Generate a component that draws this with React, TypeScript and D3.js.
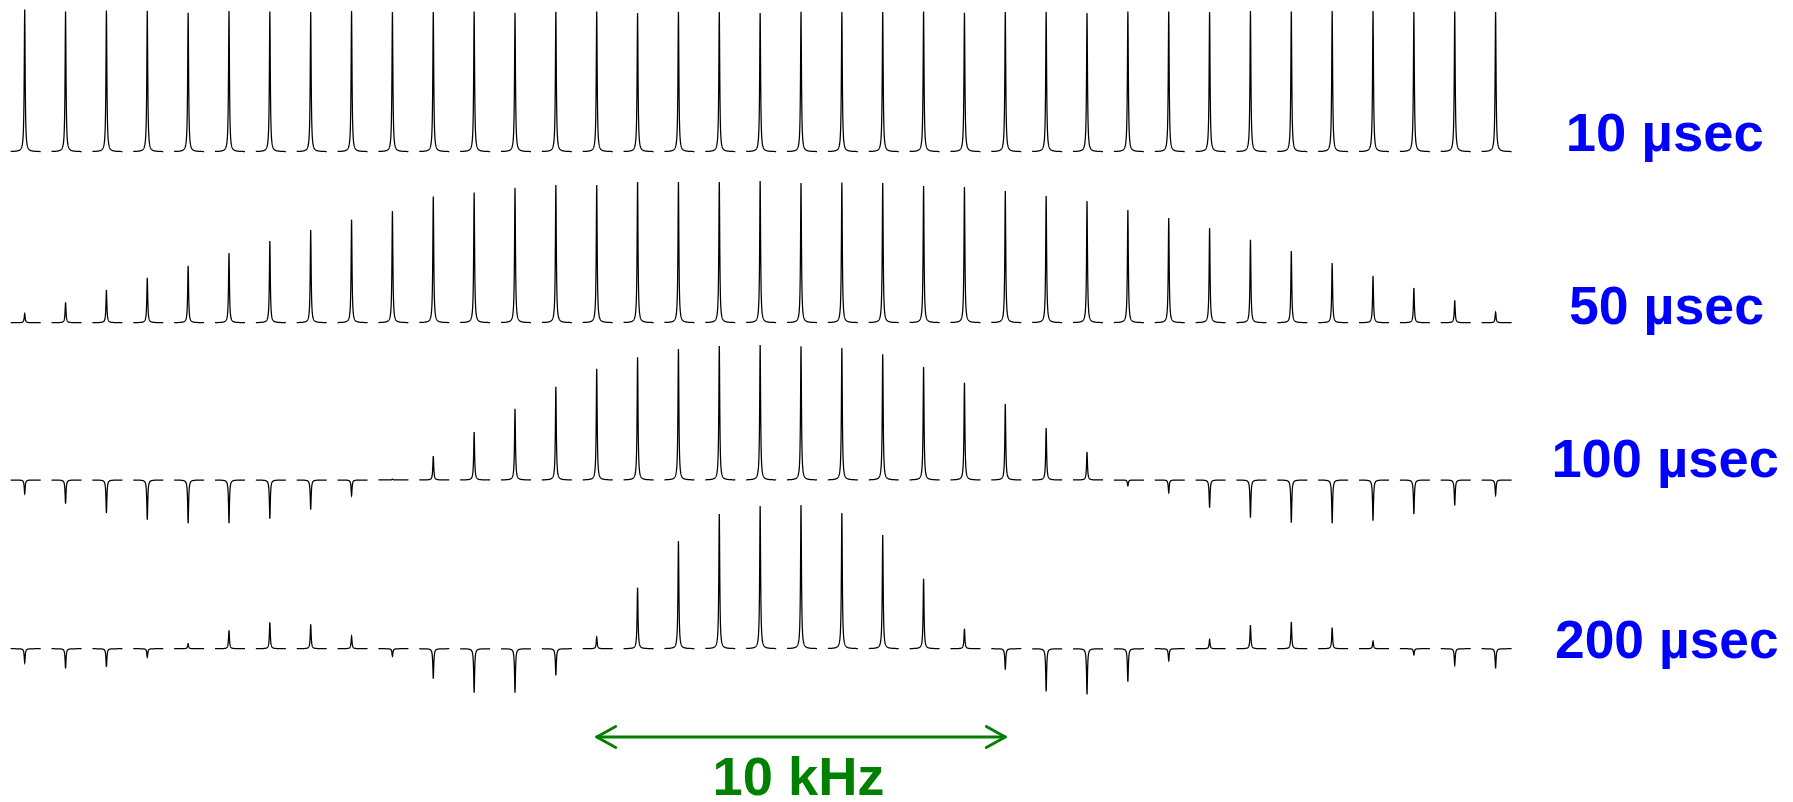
import React from "react";
import * as d3 from "d3";

// Frequency offsets of the sidebands (kHz), relative to the centre line
const offsetsKHz = [
  -18, -17, -16, -15, -14, -13, -12, -11, -10, -9, -8, -7, -6, -5, -4, -3, -2, -1,
  0, 1, 2, 3, 4, 5, 6, 7, 8, 9, 10, 11, 12, 13, 14, 15, 16, 17, 18,
];

const rowLabels = ["10 µsec", "50 µsec", "100 µsec", "200 µsec"];

// Peak intensities (arbitrary units, ~100 = full height)
const amp10 = [
  101.6, 100.2, 100.9, 100.7, 99.3, 100.5, 100.2, 99.8, 100.5, 99.8, 99.8, 100.2, 99.3,
  100, 100.2, 99.1, 100, 99.8, 99.1, 100, 99.8, 99.8, 100.2, 99.3, 99.8, 100, 99.1,
  100.2, 100.2, 99.8, 100.5, 100.2, 100.5, 100.5, 99.8, 100.2, 99.8,
];
const amp50 = [
  6.6, 14.5, 23.4, 32.1, 40.7, 49.8, 58.4, 66.2, 73.6, 79.8, 90.2, 92.9, 96.4, 98.4,
  98.4, 100.5, 100.5, 100.5, 101.2, 99.8, 100.2, 99.8, 97.6, 96.9, 94.1, 90.5, 86.9,
  80.5, 74.8, 67.6, 59.3, 51.2, 42.6, 33.4, 24.8, 15.9, 7.6,
];
const amp100 = [
  -9.8, -16.9, -23.6, -28.4, -30.9, -30.9, -27.6, -21.2, -11.2, 0.7, 17.1, 34.3, 50.9,
  66.6, 79.5, 87.6, 93.6, 95.7, 96.4, 95.5, 94.3, 89.8, 80.7, 69.5, 54.3, 37.1, 20,
  -4.3, -9.1, -19.8, -26.9, -30.5, -30.9, -29.1, -24.3, -18.1, -10.9,
];
const amp200 = [
  -10.2, -14.1, -12.9, -6.2, 3.6, 13.1, 18.8, 17.4, 9.1, -5.5, -21.4, -31.4, -31.4,
  -19.1, 8.4, 43.6, 76.9, 96.2, 101.9, 102.6, 96.9, 81.2, 50, 14.1, -15, -30.5, -32.6,
  -23.6, -8.6, 6.6, 16.9, 19.1, 15, 5.5, -4.5, -11.9, -14.1,
];

const scaleBarKHz = [-4, 6];
const scaleBarLabel = "10 kHz";

const W = 1793;
const H = 802;

const rows = [amp10, amp50, amp100, amp200];
const baselines = [151.7, 322.7, 480, 648.7];
const labelLayout = [
  { x: 1565.8, y: 151, len: 198 },
  { x: 1569, y: 323.5, len: 195 },
  { x: 1551.4, y: 476.5, len: 227.5 },
  { x: 1555, y: 658, len: 223.7 },
];

const x = d3.scaleLinear().domain([-18, 18]).range([24.7, 1495.6]);
const pxPerKHz = x(1) - x(0);
const yAmp = d3.scaleLinear().domain([0, 100]).range([0, 140]);

// lorentzian half-width (kHz) and segment extent
const hw = 0.55 / pxPerKHz;
const segLeft = -14 / pxPerKHz;
const segRight = 16 / pxPerKHz;

function samples(): number[] {
  const pts: number[] = [];
  const step = 0.15 / pxPerKHz;
  for (let v = segLeft; v <= segRight + 1e-9; v += step) pts.push(v);
  pts.push(0);
  pts.sort((a, b) => a - b);
  return pts;
}
const sampleOffsets = samples();

const gen = d3
  .line<number[]>()
  .x((d) => d[0])
  .y((d) => d[1]);

export default function App() {
  const green = "#008000";
  const blue = "#0000ff";
  return (
    <div>
      <style>{`body{margin:0;background:#fff}`}</style>
      <svg width={W} height={H} style={{ display: "block" }}>
        <rect width={W} height={H} fill="#fff" />
        {rows.map((vals, r) => {
          const base = baselines[r];
          return (
            <g key={r}>
              {vals.map((a, i) => {
                const f0 = offsetsKHz[i];
                const pts = sampleOffsets.map((o) => {
                  const l = 1 / (1 + (o / hw) * (o / hw));
                  return [x(f0 + o), base - yAmp(a) * l];
                });
                return (
                  <path
                    key={i}
                    d={gen(pts) || ""}
                    fill="none"
                    stroke="#000"
                    strokeWidth={1.25}
                  />
                );
              })}
            </g>
          );
        })}
        {rowLabels.map((t, r) => (
          <text
            key={t}
            x={labelLayout[r].x}
            y={labelLayout[r].y}
            fill={blue}
            fontFamily="'Liberation Sans', Arial, sans-serif"
            fontWeight="bold"
            fontSize={53}
            textLength={labelLayout[r].len}
            lengthAdjust="spacingAndGlyphs"
          >
            {t}
          </text>
        ))}
        {(() => {
          const x0 = x(scaleBarKHz[0]);
          const x1 = x(scaleBarKHz[1]);
          const yb = 737;
          return (
            <g stroke={green} strokeWidth={2.8} fill="none" strokeLinecap="round" strokeLinejoin="round">
              <line x1={x0} y1={yb} x2={x1} y2={yb} />
              <polyline points={`${x0 + 19},${yb - 10.5} ${x0},${yb} ${x0 + 19},${yb + 10.5}`} />
              <polyline points={`${x1 - 19},${yb - 10.5} ${x1},${yb} ${x1 - 19},${yb + 10.5}`} />
            </g>
          );
        })()}
        <text
          x={712.5}
          y={795}
          fill={green}
          fontFamily="'Liberation Sans', Arial, sans-serif"
          fontWeight="bold"
          fontSize={53}
          textLength={172}
          lengthAdjust="spacingAndGlyphs"
        >
          {scaleBarLabel}
        </text>
      </svg>
    </div>
  );
}
